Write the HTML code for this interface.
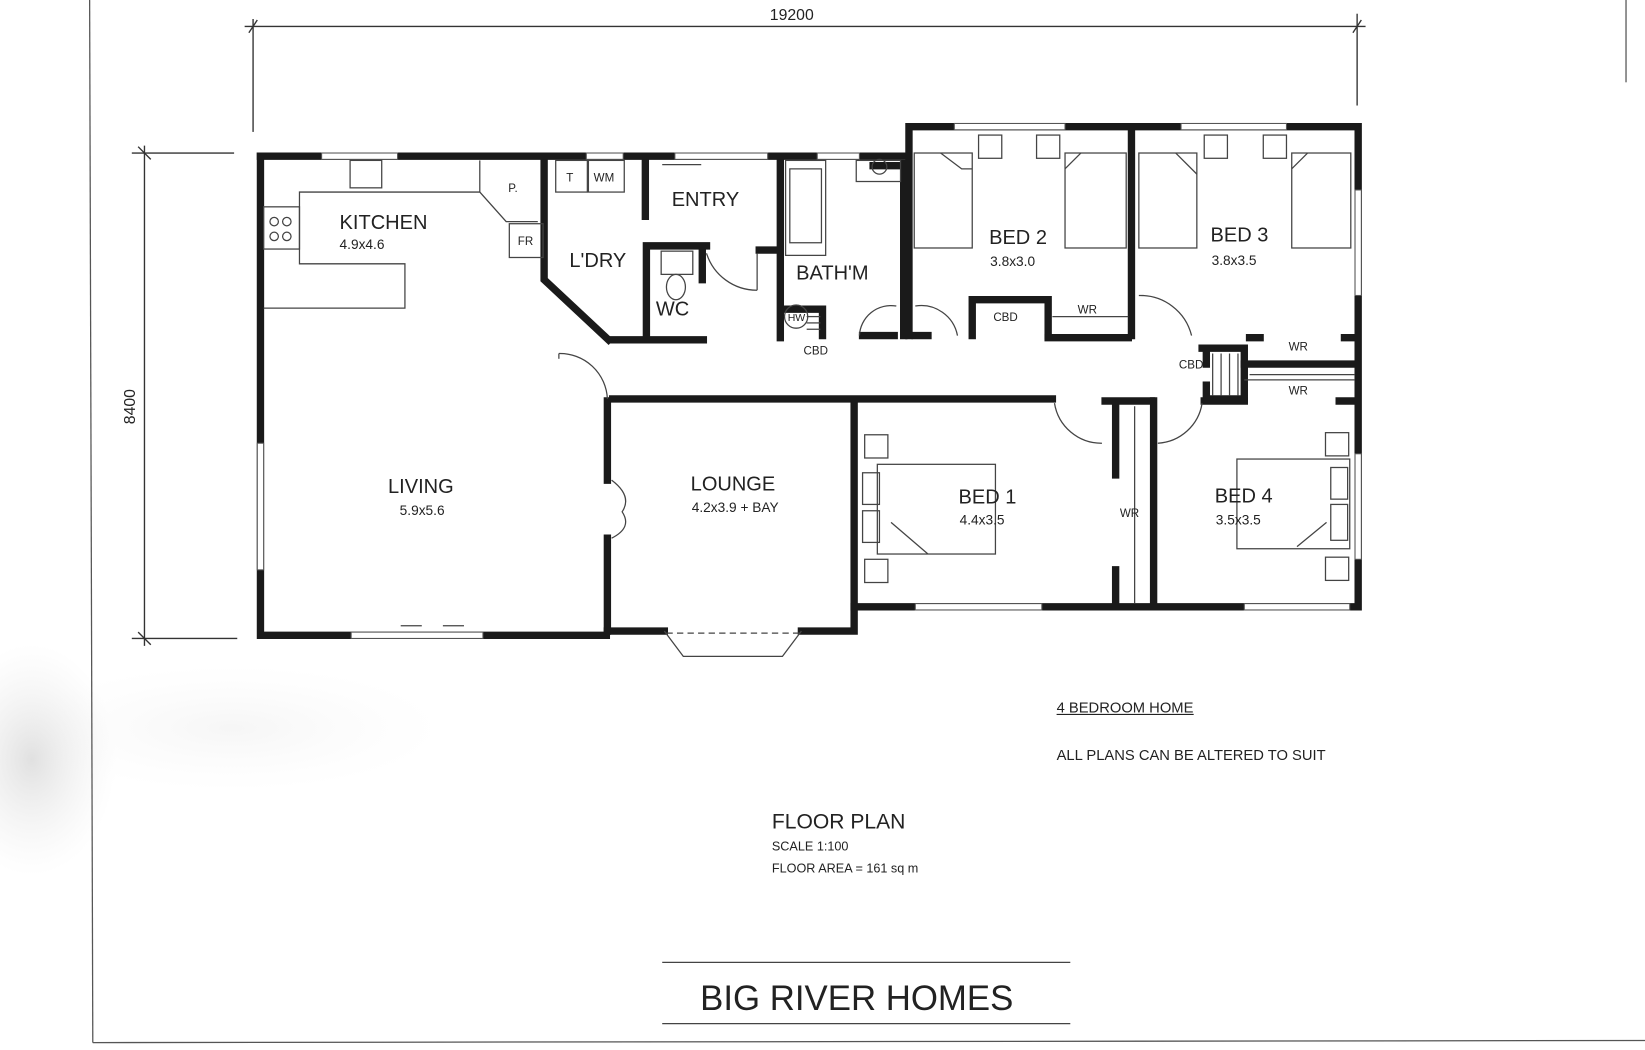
<!DOCTYPE html>
<html><head><meta charset="utf-8"><style>
html,body{margin:0;padding:0;background:#fff;width:1645px;height:1050px;overflow:hidden}
svg{display:block}
text{font-family:"Liberation Sans",sans-serif;fill:#222}
</style></head><body>
<svg width="1645" height="1050" viewBox="0 0 1560 995" preserveAspectRatio="none">
<defs>
<radialGradient id="smudge" cx="0.5" cy="0.5" r="0.5">
<stop offset="0" stop-color="#bbb" stop-opacity="0.45"/><stop offset="1" stop-color="#ddd" stop-opacity="0"/>
</radialGradient>
</defs>
<ellipse cx="30" cy="720" rx="80" ry="110" fill="url(#smudge)"/>
<ellipse cx="220" cy="690" rx="200" ry="60" fill="url(#smudge)" opacity="0.3"/>
<g stroke="#555" stroke-width="1.2" fill="none">
<line x1="85" y1="0" x2="88" y2="988"/>
<line x1="88" y1="988" x2="1560" y2="986"/>
<line x1="1542" y1="0" x2="1542" y2="78"/>
</g>
<g stroke="#333" stroke-width="1.3" fill="none">
<line x1="232" y1="25" x2="1295" y2="25"/>
<line x1="240" y1="18" x2="240" y2="125"/>
<line x1="1287" y1="13" x2="1287" y2="100"/>
<line x1="236" y1="31" x2="244" y2="19"/><line x1="1283" y1="31" x2="1291" y2="19"/>
<line x1="137" y1="138" x2="137" y2="612"/>
<line x1="125" y1="145" x2="222" y2="145"/>
<line x1="125" y1="605" x2="225" y2="605"/>
<line x1="131" y1="139" x2="143" y2="151"/><line x1="131" y1="599" x2="143" y2="611"/>
</g>
<text x="730" y="19" font-size="15">19200</text>
<text x="0" y="0" font-size="15" transform="translate(128,402) rotate(-90)">8400</text>
<g stroke="#1a1a1a" stroke-width="7" fill="none" stroke-linecap="square">
<polyline points="247,148 247,602 575,602"/>
<line x1="247" y1="148" x2="860" y2="148"/>
<line x1="576" y1="380" x2="576" y2="455"/><line x1="576" y1="510" x2="576" y2="598"/>
<polyline points="576,598 630,598"/><polyline points="760,598 810,598 810,380"/>
<polyline points="810,575 1288,575 1288,120 862,120 862,318"/>
<line x1="1073" y1="120" x2="1073" y2="318"/>
<line x1="581" y1="378" x2="998" y2="378"/>
<line x1="1048" y1="380" x2="1092" y2="380"/>
<line x1="1058" y1="385" x2="1058" y2="450"/><line x1="1058" y1="540" x2="1058" y2="572"/>
<line x1="1094" y1="380" x2="1094" y2="572"/>
<line x1="1142" y1="380" x2="1180" y2="380"/><line x1="1270" y1="380" x2="1285" y2="380"/>
<polyline points="516,148 516,265 577,322"/>
<line x1="580" y1="322" x2="667" y2="322"/>
<polyline points="613,320 613,233 670,233"/>
<line x1="666" y1="236" x2="666" y2="265"/>
<line x1="612" y1="152" x2="612" y2="205"/>
<line x1="740" y1="148" x2="740" y2="320"/>
<line x1="720" y1="237" x2="738" y2="237"/>
<polyline points="742,293 780,293 780,318"/>
<line x1="828" y1="157" x2="858" y2="157"/>
<line x1="857" y1="155" x2="857" y2="318"/>
<line x1="818" y1="318" x2="848" y2="318"/>
<line x1="868" y1="318" x2="880" y2="318"/>
<polyline points="922,318 922,284 994,284 994,318"/>
<line x1="994" y1="320" x2="1070" y2="320"/>
<polyline points="1140,330 1180,330 1180,378 1145,378"/>
<line x1="1144" y1="332" x2="1144" y2="345"/><line x1="1144" y1="365" x2="1144" y2="376"/>
<line x1="1185" y1="320" x2="1195" y2="320"/><line x1="1275" y1="320" x2="1285" y2="320"/>
<line x1="1180" y1="345" x2="1285" y2="345"/>
</g>
<g stroke="#555" stroke-width="1" fill="#fff">
<rect x="305" y="145" width="72" height="6"/>
<rect x="556" y="145" width="35" height="6"/>
<rect x="640" y="145" width="88" height="6"/>
<rect x="775" y="145" width="40" height="6"/>
<rect x="905" y="117" width="105" height="6"/>
<rect x="1120" y="117" width="100" height="6"/>
<rect x="1285" y="180" width="6" height="100"/>
<rect x="1285" y="430" width="6" height="100"/>
<rect x="244" y="420" width="6" height="120"/>
<rect x="333" y="599" width="125" height="6"/>
<rect x="868" y="572" width="120" height="6"/>
<rect x="1180" y="572" width="100" height="6"/>
</g>
<g stroke="#444" stroke-width="1.2" fill="none">
<polyline points="250,292 384,292 384,250 284,250 284,182 455,182 480,210 510,210"/>
<line x1="455" y1="182" x2="455" y2="152"/>
<rect x="250" y="196" width="34" height="40"/>
<circle cx="260" cy="210" r="4"/><circle cx="272" cy="210" r="4"/><circle cx="260" cy="224" r="4"/><circle cx="272" cy="224" r="4"/>
<rect x="332" y="152" width="30" height="26"/>
<rect x="483" y="212" width="32" height="32"/>
<rect x="527" y="152" width="30" height="30"/><rect x="558" y="152" width="34" height="30"/>
<rect x="627" y="238" width="30" height="22"/><ellipse cx="641" cy="272" rx="9" ry="12"/>
<rect x="745" y="152" width="38" height="90"/>
<path d="M749,160 L779,160 L779,230 L749,230 Z"/>
<rect x="812" y="152" width="42" height="20"/><circle cx="834" cy="158" r="7"/>
<circle cx="755" cy="300" r="11"/>
<line x1="765" y1="300" x2="778" y2="300"/><line x1="765" y1="306" x2="778" y2="306"/><line x1="765" y1="312" x2="778" y2="312"/>
<rect x="867" y="145" width="55" height="90"/><polyline points="892,145 912,160 922,160"/>
<rect x="1010" y="145" width="58" height="90"/><polyline points="1010,160 1025,145"/>
<rect x="928" y="128" width="22" height="22"/><rect x="983" y="128" width="22" height="22"/>
<rect x="1080" y="145" width="55" height="90"/><polyline points="1115,145 1135,165"/>
<rect x="1225" y="145" width="56" height="90"/><polyline points="1225,160 1240,145"/>
<rect x="1142" y="128" width="22" height="22"/><rect x="1198" y="128" width="22" height="22"/>
<rect x="832" y="440" width="112" height="85"/><rect x="820" y="412" width="22" height="22"/><rect x="820" y="530" width="22" height="22"/>
<rect x="818" y="448" width="16" height="30"/><rect x="818" y="484" width="16" height="30"/>
<polyline points="845,495 880,525"/>
<rect x="1173" y="435" width="107" height="85"/><rect x="1257" y="410" width="22" height="22"/><rect x="1257" y="528" width="22" height="22"/>
<rect x="1262" y="443" width="16" height="30"/><rect x="1262" y="478" width="16" height="34"/>
<polyline points="1258,495 1230,518"/>
<line x1="998" y1="300" x2="1070" y2="300"/>
<line x1="1180" y1="360" x2="1285" y2="360"/>
<line x1="1185" y1="355" x2="1285" y2="355"/>
<line x1="1076" y1="385" x2="1076" y2="572"/>
<line x1="1150" y1="335" x2="1150" y2="375"/><line x1="1158" y1="335" x2="1158" y2="375"/><line x1="1166" y1="335" x2="1166" y2="375"/><line x1="1174" y1="335" x2="1174" y2="375"/>
<polyline points="630,598 648,622 742,622 760,598"/>
<line x1="632" y1="600" x2="758" y2="600" stroke-dasharray="6,4"/>
<path d="M530,335 A45,45 0 0 1 576,378"/><line x1="530" y1="335" x2="530" y2="340"/>
<path d="M670,240 A50,50 0 0 0 718,275"/><line x1="718" y1="240" x2="718" y2="275"/>
<path d="M815,318 A30,30 0 0 1 850,290"/>
<path d="M868,290 A35,35 0 0 1 908,318"/>
<path d="M1080,280 A50,50 0 0 1 1130,318"/>
<path d="M1000,382 A45,45 0 0 0 1045,420"/>
<path d="M1098,420 A45,45 0 0 0 1140,382"/>
<path d="M580,455 Q600,470 590,485 Q600,500 580,510"/>
<path d="M380,593 L400,593 M420,593 L440,593"/>
<line x1="628" y1="156" x2="665" y2="156"/>
</g>
<g font-size="19">
<text x="322" y="217">KITCHEN</text>
<text x="540" y="253">L'DRY</text>
<text x="622" y="299">WC</text>
<text x="637" y="195">ENTRY</text>
<text x="755" y="265">BATH'M</text>
<text x="938" y="231">BED 2</text>
<text x="1148" y="229">BED 3</text>
<text x="368" y="467">LIVING</text>
<text x="655" y="465">LOUNGE</text>
<text x="909" y="477">BED 1</text>
<text x="1152" y="476">BED 4</text>
</g>
<g font-size="13">
<text x="322" y="236">4.9x4.6</text>
<text x="939" y="252">3.8x3.0</text>
<text x="1149" y="251">3.8x3.5</text>
<text x="379" y="488">5.9x5.6</text>
<text x="656" y="485">4.2x3.9 + BAY</text>
<text x="910" y="497">4.4x3.5</text>
<text x="1153" y="497">3.5x3.5</text>
</g>
<g font-size="11">
<text x="942" y="304">CBD</text><text x="1022" y="297">WR</text>
<text x="762" y="336">CBD</text><text x="1118" y="349">CBD</text>
<text x="1222" y="332">WR</text><text x="1222" y="374">WR</text>
<text x="1062" y="490">WR</text>
<text x="482" y="182">P.</text><text x="537" y="172">T</text><text x="563" y="172">WM</text>
<text x="491" y="232">FR</text><text x="747" y="304" font-size="10">HW</text>
</g>
<text x="1002" y="675" font-size="14">4 BEDROOM HOME</text>
<line x1="1002" y1="677" x2="1132" y2="677" stroke="#222" stroke-width="1"/>
<text x="1002" y="720" font-size="14">ALL PLANS CAN BE ALTERED TO SUIT</text>
<text x="732" y="785" font-size="20">FLOOR PLAN</text>
<text x="732" y="806" font-size="12">SCALE 1:100</text>
<text x="732" y="827" font-size="12">FLOOR AREA = 161 sq m</text>
<line x1="628" y1="912" x2="1015" y2="912" stroke="#444" stroke-width="1.2"/>
<line x1="628" y1="970" x2="1015" y2="970" stroke="#444" stroke-width="1.2"/>
<text x="664" y="957" font-size="33">BIG RIVER HOMES</text>
</svg>
</body></html>
